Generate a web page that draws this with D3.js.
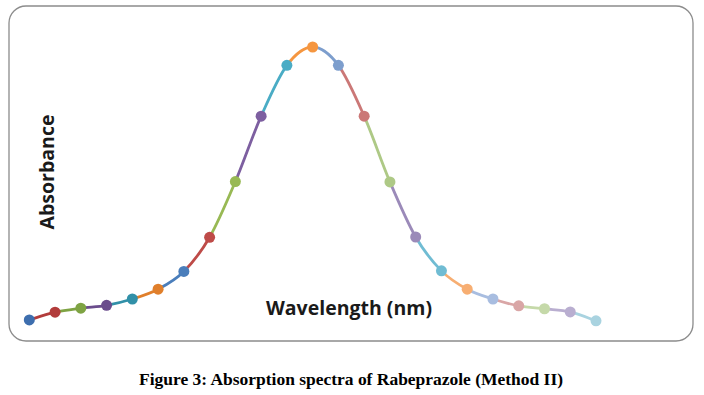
<!DOCTYPE html>
<html>
<head>
<meta charset="utf-8">
<script src="https://cdn.jsdelivr.net/npm/d3@7"></script>
<style>
  body { margin: 0; background: #fff; }
  svg { display: block; }
</style>
</head>
<body>
<div id="chart"></div>
<script>
// data (no axis scale shown, absorbance normalised to peak)
var wavelengths = [262, 264, 266, 268, 270, 272, 274, 276, 278, 280, 282, 284,
                   286, 288, 290, 292, 294, 296, 298, 300, 302, 304, 306];
var absorbance = [0.049, 0.076, 0.090, 0.100, 0.122, 0.156, 0.218, 0.337, 0.531, 0.759, 0.936, 1.000,
                  0.936, 0.759, 0.530, 0.338, 0.220, 0.156, 0.122, 0.098, 0.088, 0.077, 0.046];
var pointColors = ["#3d6eae", "#b23c3b", "#7ea343", "#6a4c8c", "#3190a8", "#e07f2b",
                   "#4a7ebb", "#be4b48", "#98b954", "#7d5fa0", "#4aacc5", "#f59640",
                   "#7d9ecd", "#cb7877", "#aec986", "#9b8ab9", "#70bcd3", "#f7ae72",
                   "#a8bde0", "#d9a6a6", "#c5d9a9", "#b9aed0", "#a9d3e0"];
var xTitle = "Wavelength (nm)",
    yTitle = "Absorbance",
    caption = "Figure 3: Absorption spectra of Rabeprazole (Method II)";

var width = 704, height = 395;

var svg = d3.select("#chart").append("svg")
    .attr("width", width)
    .attr("height", height);

// chart frame
svg.append("rect")
    .attr("x", 9).attr("y", 6)
    .attr("width", 684).attr("height", 335)
    .attr("rx", 17).attr("ry", 17)
    .attr("fill", "#fff")
    .attr("stroke", "#8c8c8c")
    .attr("stroke-width", 1.3);

var x = d3.scaleLinear()
    .domain([wavelengths[0], wavelengths[wavelengths.length - 1]])
    .range([29.3, 596]);

var y = d3.scaleLinear()
    .domain([0, 1])
    .range([334, 47]);

var pts = wavelengths.map(function(w, i) {
  return {x: x(w), y: y(absorbance[i]), c: pointColors[i]};
});

// smoothed segments, each in the colour of its end point
var segs = [];
for (var i = 1; i < pts.length; i++) {
  var p0 = pts[Math.max(0, i - 2)], p1 = pts[i - 1], p2 = pts[i], p3 = pts[Math.min(pts.length - 1, i + 1)];
  var c1x = p1.x + (p2.x - p0.x) / 6, c1y = p1.y + (p2.y - p0.y) / 6,
      c2x = p2.x - (p3.x - p1.x) / 6, c2y = p2.y - (p3.y - p1.y) / 6;
  segs.push({d: "M" + p1.x + "," + p1.y + "C" + c1x + "," + c1y + " " + c2x + "," + c2y + " " + p2.x + "," + p2.y, c: p2.c});
}

svg.append("g").selectAll("path")
    .data(segs)
  .enter().append("path")
    .attr("d", function(d) { return d.d; })
    .attr("fill", "none")
    .attr("stroke", function(d) { return d.c; })
    .attr("stroke-width", 2.8)
    .attr("stroke-linecap", "round");

svg.append("g").selectAll("circle")
    .data(pts)
  .enter().append("circle")
    .attr("cx", function(d) { return d.x; })
    .attr("cy", function(d) { return d.y; })
    .attr("r", 5.5)
    .attr("fill", function(d) { return d.c; });

// axis titles
svg.append("text")
    .attr("x", 349).attr("y", 315)
    .attr("text-anchor", "middle")
    .attr("font-family", "'Open Sans', sans-serif")
    .attr("font-weight", "bold")
    .attr("font-size", 19)
    .attr("fill", "#1a1a1a")
    .attr("textLength", 166)
    .attr("lengthAdjust", "spacingAndGlyphs")
    .text(xTitle);

svg.append("text")
    .attr("transform", "translate(54,172) rotate(-90)")
    .attr("text-anchor", "middle")
    .attr("font-family", "'Open Sans', sans-serif")
    .attr("font-weight", "bold")
    .attr("font-size", 19)
    .attr("fill", "#1a1a1a")
    .attr("textLength", 115)
    .attr("lengthAdjust", "spacingAndGlyphs")
    .text(yTitle);

// caption
svg.append("text")
    .attr("x", 351).attr("y", 385)
    .attr("text-anchor", "middle")
    .attr("font-family", "'Liberation Serif', 'Times New Roman', serif")
    .attr("font-weight", "bold")
    .attr("font-size", 16.5)
    .attr("fill", "#000")
    .attr("textLength", 424)
    .attr("lengthAdjust", "spacingAndGlyphs")
    .text(caption);
</script>
</body>
</html>
